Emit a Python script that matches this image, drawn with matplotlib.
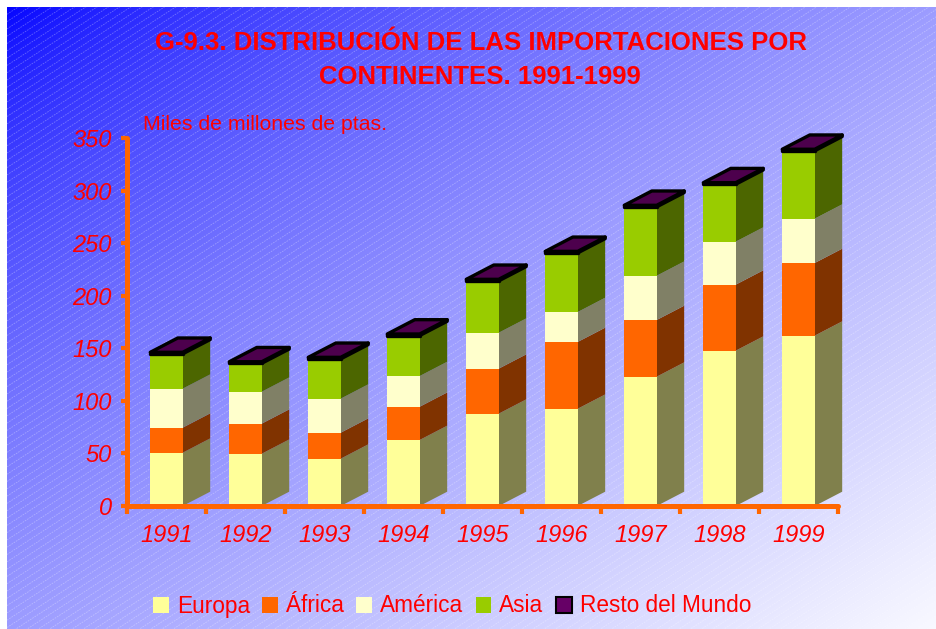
import numpy as np
import matplotlib
matplotlib.use('Agg')
import matplotlib.pyplot as plt
from matplotlib.patches import Polygon, Patch
from matplotlib.collections import LineCollection

# ---------------- data ----------------
years = ['1991', '1992', '1993', '1994', '1995', '1996', '1997', '1998', '1999']
europa  = [50.7, 49.7, 45.0, 62.8, 87.8, 92.5, 123.0, 147.7, 162.0]
africa  = [23.8, 28.6, 24.7, 31.6, 42.8, 63.5, 53.9, 62.8, 69.1]
america = [37.1, 30.4, 32.4, 29.2, 34.2, 28.5, 42.1, 40.9, 42.2]
asia    = [33.1, 27.0, 37.8, 38.5, 49.3, 56.2, 65.5, 54.6, 64.5]
resto   = [1.5, 1.5, 1.5, 1.5, 1.5, 1.5, 1.5, 1.5, 1.5]
series_names = ['Europa', 'África', 'América', 'Asia', 'Resto del Mundo']
y_ticks = [0, 50, 100, 150, 200, 250, 300, 350]

title_1 = 'G-9.3. DISTRIBUCIÓN DE LAS IMPORTACIONES POR'
title_2 = 'CONTINENTES. 1991-1999'
unit_label = 'Miles de millones de ptas.'

# ---------------- styles ----------------
front_cols = ['#FFFF99', '#FF6600', '#FFFFCC', '#99CC00', '#660066']
side_cols  = ['#80804C', '#803300', '#808066', '#4C6600', '#330033']
top_col = '#4D004D'
RED = '#FF0000'
ORANGE = '#FF6600'
FONT = 'Liberation Sans'

W, H = 937, 629
fig = plt.figure(figsize=(W / 100, H / 100), dpi=100)
fig.patch.set_facecolor('white')

# ---------------- background panel ----------------
bg = fig.add_axes([7 / W, 0, (W - 7) / W, (H - 7) / H])
bg.set_xlim(0, W - 7)
bg.set_ylim(H - 7, 0)
bg.axis('off')
gx = np.linspace(0, 1, 500)
gy = np.linspace(0, 1, 340)
GX, GY = np.meshgrid(gx, gy)
t = (GX + GY) / 2
v = t ** 0.67
img = np.dstack([v * 0.975, v * 0.975, np.ones_like(v)])
bg.imshow(img, extent=(0, W - 7, H - 7, 0), aspect='auto', interpolation='bilinear')
ang = np.tan(np.deg2rad(33))
segs = []
for b in np.arange(0, (H - 7) + (W - 7) * ang + 10, 7.3):
    segs.append([(0, b), (W - 7, b - (W - 7) * ang)])
bg.add_collection(LineCollection(segs, colors='white', linewidths=0.6, alpha=0.3,
                                 linestyles=[(0, (2, 1.2))]))

# ---------------- chart axes ----------------
ax = fig.add_axes([127 / W, (H - 506) / H, (838 - 127) / W, (506 - 138) / H])
ax.patch.set_visible(False)
ax.set_xlim(-0.5, 8.5)
ax.set_ylim(0, 350)

w = 0.41      # front width (category units)
dx = 0.348    # depth shift in x
dy = 13.6     # depth shift in y (value units)

stack = [europa, africa, america, asia, resto]
for i in range(len(years)):
    base = 0.0
    xl = i - w / 2
    xr = i + w / 2
    for k, vals in enumerate(stack):
        h = vals[i]
        y0, y1 = base, base + h
        is_resto = (k == len(stack) - 1)
        ec = 'black' if is_resto else 'none'
        lw = 2.4 if is_resto else 0
        side = Polygon([(xr, y0), (xr + dx, y0 + dy), (xr + dx, y1 + dy), (xr, y1)],
                       closed=True, facecolor=side_cols[k], edgecolor=ec, linewidth=lw,
                       clip_on=False, zorder=2, joinstyle='round')
        front = Polygon([(xl, y0), (xr, y0), (xr, y1), (xl, y1)], closed=True,
                        facecolor=front_cols[k], edgecolor=ec, linewidth=lw,
                        clip_on=False, zorder=2, joinstyle='round')
        ax.add_patch(side)
        ax.add_patch(front)
        base = y1
    top = Polygon([(xl, base), (xl + dx, base + dy), (xr + dx, base + dy), (xr, base)],
                  closed=True, facecolor=top_col, edgecolor='black', linewidth=2.4,
                  clip_on=False, zorder=3, joinstyle='round')
    ax.add_patch(top)

for s in ['top', 'right']:
    ax.spines[s].set_visible(False)
for s in ['left', 'bottom']:
    ax.spines[s].set_color(ORANGE)
    ax.spines[s].set_linewidth(3.6)
    ax.spines[s].set_capstyle('round')
    ax.spines[s].set_zorder(4)

ax.set_yticks(y_ticks)
ax.set_yticklabels([str(v) for v in y_ticks], fontstyle='italic', family=FONT,
                   fontsize=17, color=RED)
ax.tick_params(axis='y', direction='out', length=4, width=3, color=ORANGE, pad=7)

ax.set_xticks(np.arange(-0.5, len(years), 1.0))
ax.set_xticklabels([])
ax.tick_params(axis='x', which='major', direction='out', length=6, width=3, color=ORANGE)
ax.set_xticks(np.arange(len(years)), minor=True)
ax.set_xticklabels(years, minor=True, fontstyle='italic', family=FONT, fontsize=17, color=RED)
ax.tick_params(axis='x', which='minor', length=0, pad=13)

# ---------------- texts ----------------
fig.text(481 / W, 1 - 43 / H, title_1, ha='center', va='center', color=RED,
         fontsize=18.5, fontweight='bold', family=FONT)
fig.text(480 / W, 1 - 77 / H, title_2, ha='center', va='center', color=RED,
         fontsize=18.5, fontweight='bold', family=FONT)
fig.text(143 / W, 1 - 125 / H, unit_label, ha='left', va='center', color=RED,
         fontsize=15.3, family=FONT)

# ---------------- legend ----------------
handles = [Patch(facecolor=front_cols[k], edgecolor=('black' if k == 4 else 'none'),
                 linewidth=(1.5 if k == 4 else 0)) for k in range(len(series_names))]
leg = fig.legend(handles, series_names, loc='center', bbox_to_anchor=(452 / W, 1 - 606 / H),
                 ncol=5, frameon=False, handlelength=0.7, handleheight=0.7,
                 handletextpad=0.35, columnspacing=0.55,
                 prop={'family': FONT, 'size': 16.3})
for txt in leg.get_texts():
    txt.set_color(RED)

fig.savefig('out.png', dpi=100)
